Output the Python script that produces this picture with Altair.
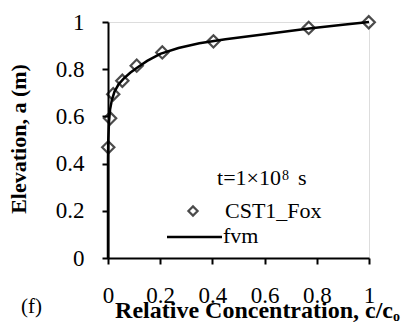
import altair as alt
import pandas as pd

# Measured concentration profile (CST1_Fox) at t = 1e8 s
obs_conc = [0.001, 0.008, 0.02, 0.055, 0.11, 0.208, 0.404, 0.769, 0.999]
obs_elev = [0.469, 0.592, 0.694, 0.751, 0.815, 0.871, 0.918, 0.975, 0.999]

# Finite-volume (fvm) solution
fvm_conc = [0.0, 0.0, 0.001, 0.004, 0.008, 0.015, 0.025, 0.04, 0.06, 0.085, 0.11,
            0.15, 0.2, 0.27, 0.35, 0.45, 0.6, 0.77, 0.9, 1.0]
fvm_elev = [0.0, 0.42, 0.5, 0.58, 0.63, 0.67, 0.705, 0.735, 0.76, 0.785, 0.805,
            0.835, 0.865, 0.89, 0.91, 0.927, 0.948, 0.972, 0.988, 1.0]

x_ticks = [0, 0.2, 0.4, 0.6, 0.8, 1]
y_ticks = [0, 0.2, 0.4, 0.6, 0.8, 1]

SERIF = "Liberation Serif"
W, H = 261, 236

obs = pd.DataFrame({"c": obs_conc, "a": obs_elev})
fvm = pd.DataFrame({"c": fvm_conc, "a": fvm_elev})

x_scale = alt.Scale(domain=[0, 1], nice=False)
y_scale = alt.Scale(domain=[0, 1], nice=False)

x_axis = alt.Axis(values=x_ticks, format="~g", title=None, grid=False,
                  labelFont=SERIF, labelFontSize=23, labelColor="black",
                  labelPadding=20, tickSize=6, tickColor="black", tickWidth=2,
                  domainColor="black", domainWidth=2, labelFlush=False)
y_axis = alt.Axis(values=y_ticks, format="~g", title=None, grid=False,
                  labelFont=SERIF, labelFontSize=23, labelColor="black",
                  labelPadding=18, tickSize=6, tickColor="black", tickWidth=2,
                  domainColor="black", domainWidth=2, labelFlush=False)

line = alt.Chart(fvm).mark_line(color="black", strokeWidth=2.5).encode(
    x=alt.X("c:Q", scale=x_scale, axis=x_axis),
    y=alt.Y("a:Q", scale=y_scale, axis=y_axis),
    order=alt.Order("a:Q"),
)

points = alt.Chart(obs).mark_point(
    shape="diamond", filled=False, color="black", strokeWidth=2.2, size=150
).encode(x=alt.X("c:Q", scale=x_scale), y=alt.Y("a:Q", scale=y_scale))


def label(text, x, y, size, weight="normal", align="left", angle=0, baseline="alphabetic"):
    return alt.Chart(pd.DataFrame({"t": [text]})).mark_text(
        font=SERIF, fontSize=size, fontWeight=weight, align=align,
        baseline=baseline, angle=angle, color="black"
    ).encode(text="t:N", x=alt.value(x - 108), y=alt.value(y - 22))


# Legend entries
legend_sym = alt.Chart(pd.DataFrame({"k": [0]})).mark_point(
    shape="diamond", filled=False, color="black", strokeWidth=2.2, size=85
).encode(x=alt.value(193 - 108), y=alt.value(211 - 22))
legend_line = alt.Chart(pd.DataFrame({"k": [0]})).mark_rule(
    color="black", strokeWidth=2.5
).encode(x=alt.value(167 - 108), x2=alt.value(222 - 108), y=alt.value(237 - 22))

texts = [
    label("t=1×10", 281, 185, 22, align="right"),
    label("8", 282, 180, 14),
    label("s", 298, 185, 22),
    label("CST1_Fox", 225, 218, 22),
    label("fvm", 223, 243, 22),
    label("Relative Concentration, c/c", 393, 318, 24, weight="bold", align="right"),
    label("o", 393, 321, 14, weight="bold"),
    label("(f)", 21, 313, 21),
    label("Elevation, a (m)", 26, 139, 22, weight="bold", align="center", angle=270),
]

chart = alt.layer(line, points, legend_sym, legend_line, *texts).properties(
    width=W, height=H,
    autosize=alt.AutoSizeParams(type="none"),
    padding={"left": 108, "top": 22, "right": 35, "bottom": 67},
).configure_view(stroke="black", strokeWidth=2).configure(background="white")

chart.save("out.html", embed_options={"renderer": "svg", "actions": False})
